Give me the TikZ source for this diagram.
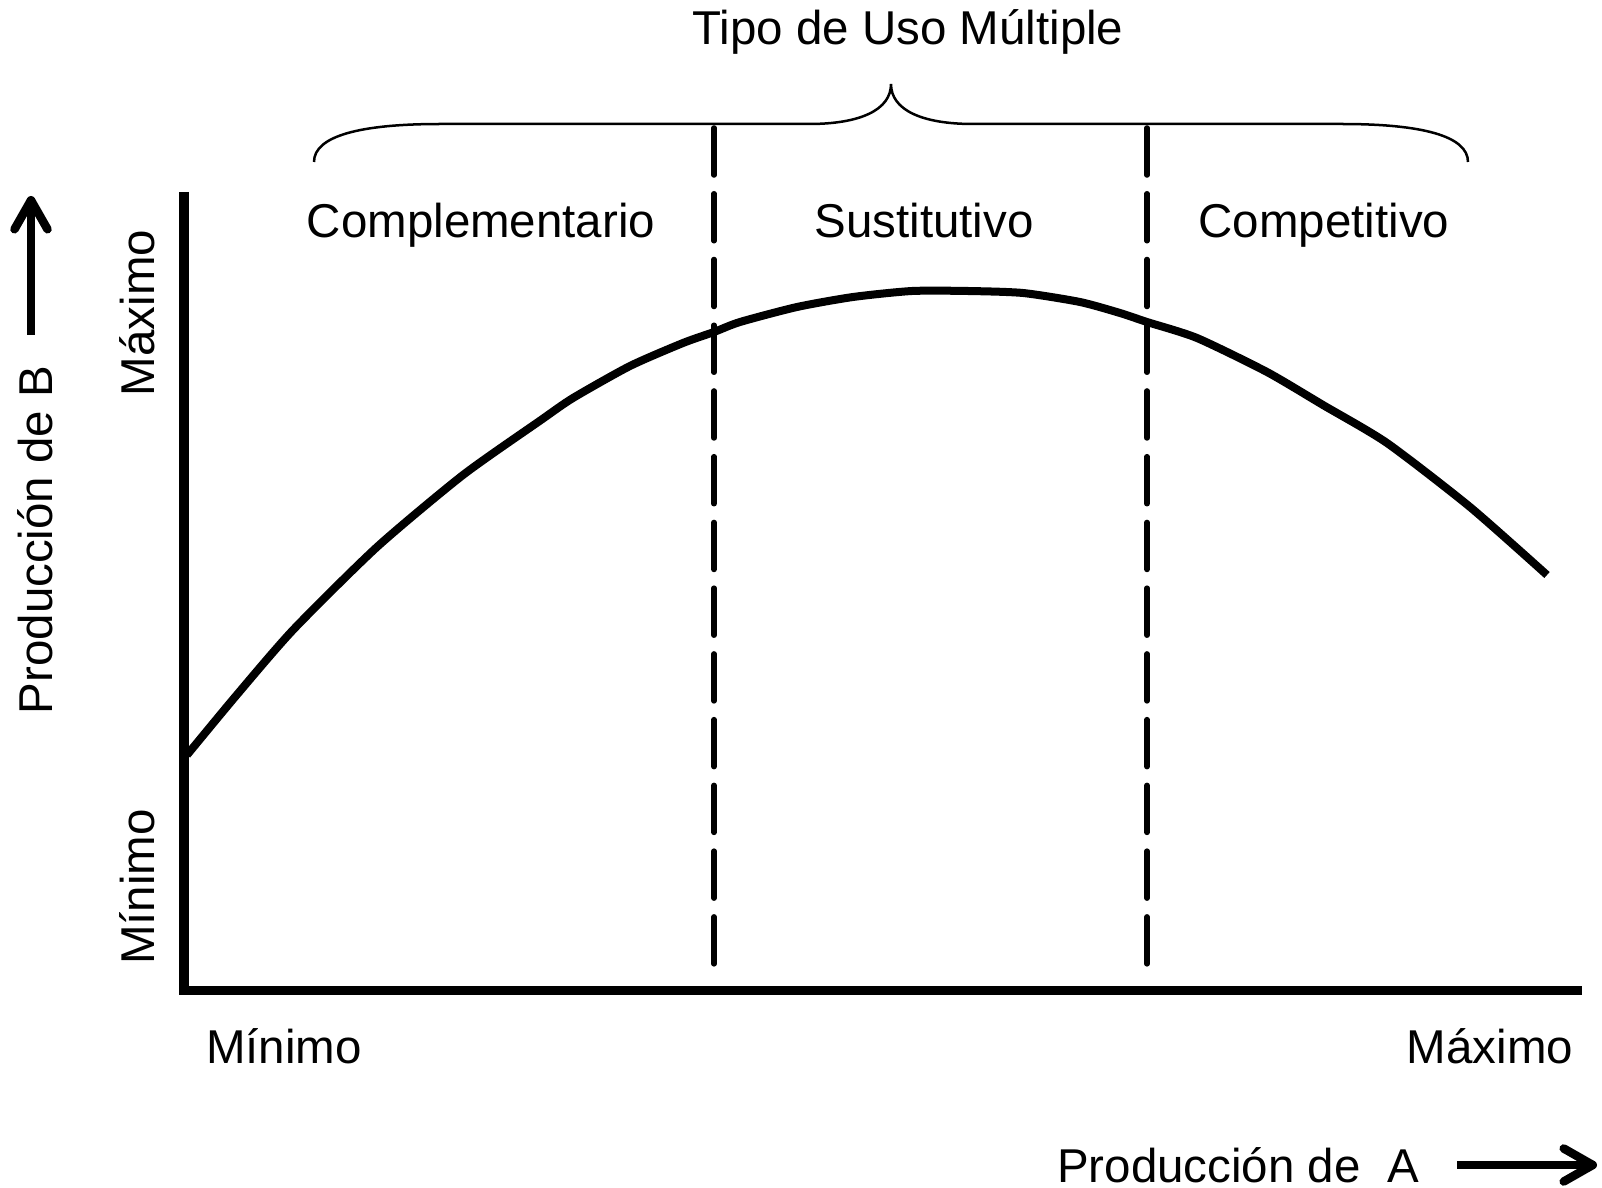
\documentclass[tikz,border=0pt]{standalone}
\usepackage{fontspec}
\setmainfont{Liberation Sans}
\usetikzlibrary{arrows.meta}
\tikzset{
  ufig/.style={font=\fontsize{13.5}{16}\selectfont},
  axisln/.style={line width=0.09cm},
  frontier/.style={line width=0.08cm, line join=round},
  divln/.style={line width=0.055cm, line cap=round, dash pattern=on 0.47cm off 0.187cm},
  bracel/.style={line width=0.025cm},
  barr/.style={line width=0.085cm, -{Straight Barb[length=2.9mm, width=3.3mm, round]}},
}
\def\AxX{184}
\def\AxY{990}
\def\AxTop{192}
\def\AxEnd{1582}
\def\DivA{714}
\def\DivB{1147}
\def\DivTop{128}
\def\DivBot{973}
\def\CatBase{238}
\def\LblBase{1063}

\begin{document}
\begin{tikzpicture}[ufig, x=0.01cm, y=-0.01cm]
  \useasboundingbox (0,0) rectangle (1602,1188);

  % ----- axes -----
  \coordinate (O) at (\AxX, \AxY);
  \coordinate (Ytop) at (\AxX, \AxTop);
  \coordinate (Xend) at (\AxEnd, \AxY);
  \draw[axisln] (Ytop) -- (O) -- (Xend);

  % ----- dashed dividers -----
  \coordinate (D1t) at (\DivA, \DivTop);
  \coordinate (D1b) at (\DivA, \DivBot);
  \coordinate (D2t) at (\DivB, \DivTop);
  \coordinate (D2b) at (\DivB, \DivBot);
  \draw[divln] (D1t) -- (D1b);
  \draw[divln] (D2t) -- (D2b);

  % ----- production frontier -----
  \draw[frontier] plot[smooth, tension=0.4] coordinates {
    (187,755) (235,697) (293,630) (377,547) (463,475) (541,420)
    (573,398) (630,366) (683,343) (714,332) (740,322) (797,307)
    (853,297) (912,291) (968,291) (1023,293) (1080,302) (1120,313)
    (1147,322) (1197,338) (1267,372) (1323,405) (1387,443)
    (1470,507) (1547,575)};

  % ----- brace over the three zones -----
  \coordinate (BrL) at (314, 162);
  \coordinate (BrM) at (891, 84);
  \coordinate (BrR) at (1468, 162);
  \draw[bracel] (BrL) .. controls (314,136) and (360,124) .. (440,124)
    -- (809,124) .. controls (860,124) and (891,110) .. (BrM)
    .. controls (891,110) and (922,124) .. (973,124)
    -- (1342,124) .. controls (1422,124) and (1468,136) .. (BrR);

  % ----- titles -----
  \node[anchor=base] (title) at (908, 45) {Tipo de Uso Múltiple};
  \node[anchor=base] (compl) at (481, \CatBase) {Complementario};
  \node[anchor=base] (susti) at (924, \CatBase) {Sustitutivo};
  \node[anchor=base] (compe) at (1324, \CatBase) {Competitivo};

  % ----- axis labels -----
  \node[anchor=base, rotate=90] (ymax) at (154, 313) {Máximo};
  \node[anchor=base, rotate=90] (ymin) at (154, 887) {Mínimo};
  \node[anchor=base, rotate=90] (ylab) at (52, 540) {Producción de B};
  \node[anchor=base] (xmin) at (284, \LblBase) {Mínimo};
  \node[anchor=base] (xmax) at (1490, \LblBase) {Máximo};
  \node[anchor=base] (xlab) at (1238, 1182) {Producción de\ \ A};

  % ----- direction arrows -----
  \coordinate (YarS) at (31, 335);
  \coordinate (YarE) at (31, 196);
  \coordinate (XarS) at (1457, 1165);
  \coordinate (XarE) at (1597, 1165);
  \draw[barr] (YarS) -- (YarE);
  \draw[barr] (XarS) -- (XarE);
\end{tikzpicture}
\end{document}
